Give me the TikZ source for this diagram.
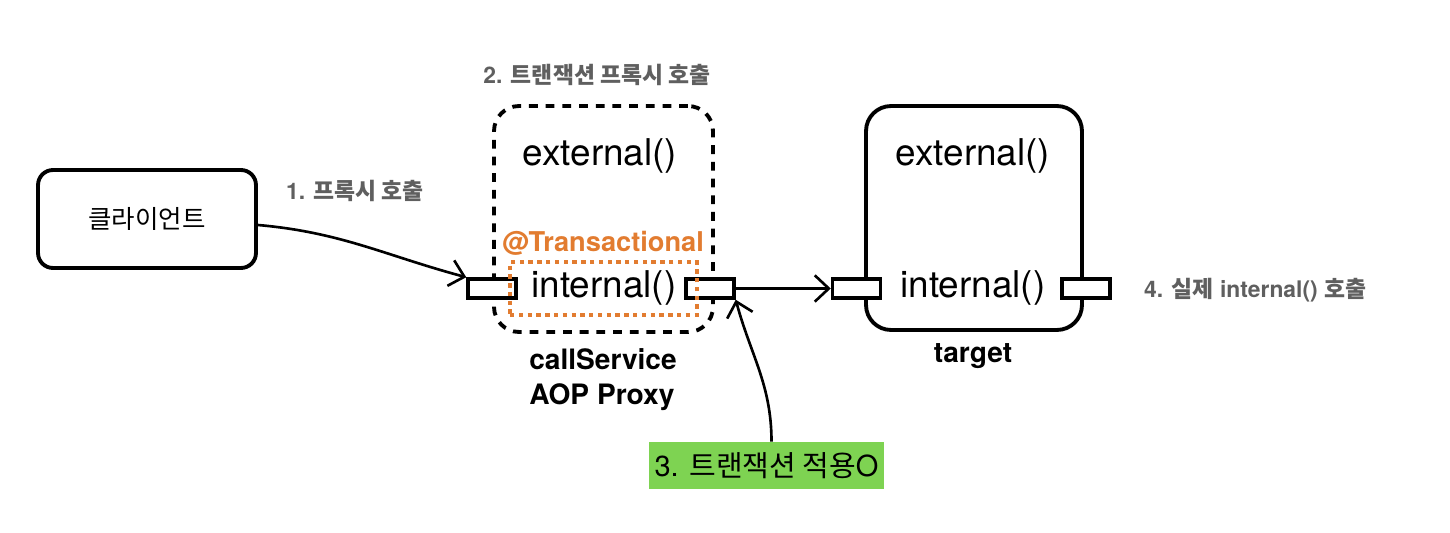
\documentclass[tikz,border=0pt]{standalone}
\usepackage{fontspec}
\setmainfont{TeX Gyre Heros}
\newfontfamily\kr{Noto Sans CJK KR}
\usetikzlibrary{arrows.meta}
\definecolor{stepgray}{RGB}{95,95,95}
\definecolor{txorange}{RGB}{226,124,48}
\definecolor{notegreen}{RGB}{126,211,82}

\begin{document}
\begin{tikzpicture}[x=0.02cm,y=0.02cm,
    box/.style={draw,line width=2.2pt,rounded corners=0.3cm,inner sep=0pt},
    port/.style={draw,line width=2pt,fill=white,minimum width=0.96cm,minimum height=0.38cm,inner sep=0pt},
    method/.style={font=\fontsize{21}{25}\selectfont},
    steplabel/.style={text=stepgray,font=\bfseries\fontsize{13}{16}\selectfont},
    objname/.style={font=\bfseries\fontsize{16}{20}\selectfont},
    call/.style={line width=1.5pt,-{Straight Barb[length=8pt,width=15pt]}}]
  \useasboundingbox (0,0) rectangle (1450,532);

  % client
  \node[box,minimum width=4.36cm,minimum height=1.96cm,font=\kr\fontsize{14.5}{17}\selectfont] (Client) at (147,313) {클라이언트};
  \node[steplabel] (StepOne) at (355,341) {1. {\kr 프록시 호출}};

  % proxy
  \node[box,dash pattern=on 5pt off 4.5pt,minimum width=4.38cm,minimum height=4.52cm,rounded corners=0.5cm] (ProxyBox) at (603.5,313) {};
  \node[steplabel] (StepTwo) at (597,457) {2. {\kr 트랜잭션 프록시 호출}};
  \node[method] (ProxyExt) at (600,376) {external()};
  \node[text=txorange,font=\bfseries\fontsize{15.5}{18}\selectfont] (TxLabel) at (603,289) {@Transactional};
  \node[method] (ProxyInt) at (604,244) {internal()};
  \node[port] (ProxyIn) at (492,243.5) {};
  \node[port] (ProxyOut) at (710,243.5) {};
  \node[draw=txorange,line width=2pt,dash pattern=on 2.5pt off 2.5pt,minimum width=3.74cm,minimum height=1.06cm,inner sep=0pt] (TxScope) at (603.5,243.5) {};
  \node[objname,align=left] (ProxyName) at (603,152) {callService\\AOP Proxy};

  % target
  \node[box,minimum width=4.32cm,minimum height=4.48cm,rounded corners=0.5cm] (TargetBox) at (974,314) {};
  \node[method] (TargetExt) at (973,376) {external()};
  \node[method] (TargetInt) at (973,244) {internal()};
  \node[port] (TargetIn) at (856.5,243.5) {};
  \node[port] (TargetOut) at (1086,243.5) {};
  \node[objname] (TargetName) at (973,176) {target};
  \node[steplabel,anchor=west] (StepFour) at (1138,242) {4. {\kr 실제} internal() {\kr 호출}};

  % note
  \node[fill=notegreen,minimum width=4.7cm,minimum height=0.94cm,font=\fontsize{16.5}{20}\selectfont] (Note) at (766.5,66.5) {3. {\kr 트랜잭션 적용}O};

  \draw[call] ([yshift=-0.12cm]Client.east) to[out=-5,in=165] (ProxyIn.north west);
  \draw[call] (ProxyOut.east) -- (TargetIn.west);
  \draw[call] ([xshift=0.1cm]Note.north) to[out=90,in=-75] (ProxyOut.south east);
\end{tikzpicture}
\end{document}
